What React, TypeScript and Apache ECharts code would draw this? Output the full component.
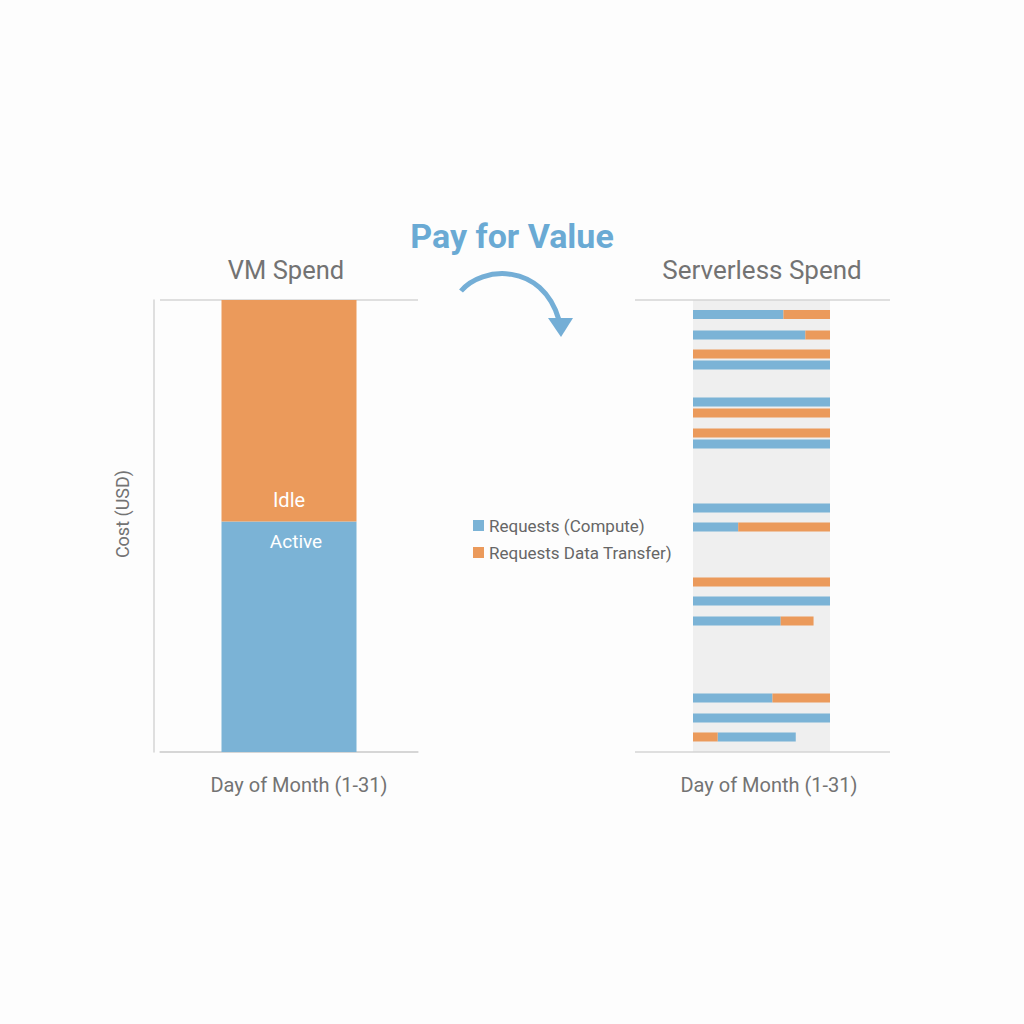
import React, { useEffect, useRef } from "react";
import * as echarts from "echarts";

// ---- Data ----
const vmCategories = ["Month"];
const vmActive = [51];
const vmIdle = [49];

// Serverless: each row is a request burst at a point in the month
const rowDay = [1.0, 2.4, 3.7, 4.46, 7.0, 7.75, 9.12, 9.88, 14.27, 15.57, 19.34, 20.64, 22.01, 27.3, 28.67, 29.97];
const computeFrom = [0, 0, 0, 0, 0, 0, 0, 0, 0, 0, 0, 0, 0, 0, 0, 18];
const computeTo = [66, 82, 0, 100, 100, 0, 0, 100, 100, 33, 0, 100, 64, 58, 100, 75];
const transferFrom = [66, 82, 0, 0, 0, 0, 0, 0, 0, 33, 0, 0, 64, 58, 0, 0];
const transferTo = [100, 100, 100, 0, 0, 100, 100, 0, 0, 100, 100, 0, 88, 100, 0, 18];

const legendNames = ["Requests (Compute)", "Requests Data Transfer)"];

const BLUE = "#7bb3d6";
const ORANGE = "#eb9a5b";
const GRAY_TEXT = "#737373";
const LINE = "#d4d4d4";
const FONT = "Roboto, 'Noto Sans', sans-serif";

function segs(from: number[], to: number[]) {
  const out: number[][] = [];
  rowDay.forEach((d, i) => {
    if (to[i] > from[i]) out.push([d, from[i], to[i]]);
  });
  return out;
}

const renderSeg = (params: any, api: any) => {
  const day = api.value(0);
  const a = api.coord([api.value(1), day]);
  const b = api.coord([api.value(2), day]);
  const h = 9;
  return {
    type: "rect",
    shape: { x: a[0], y: a[1] - h / 2, width: b[0] - a[0], height: h },
    style: { fill: api.visual("color") },
  };
};

export default function App() {
  const ref = useRef<HTMLDivElement>(null);
  useEffect(() => {
    if (!ref.current) return;
    const chart = echarts.init(ref.current, undefined, { renderer: "svg" });
    chart.setOption({
      animation: false,
      backgroundColor: "#fdfdfd",
      textStyle: { fontFamily: FONT },
      grid: [
        { left: 160, top: 300, width: 258, height: 452 },
        { left: 693, top: 300, width: 137, height: 452, show: true, backgroundColor: "#efefef", borderWidth: 0 },
        { left: 635, top: 300, width: 255, height: 452 },
      ],
      xAxis: [
        {
          type: "category",
          gridIndex: 0,
          data: vmCategories,
          axisLine: { show: true, lineStyle: { color: LINE, width: 1.5 } },
          axisTick: { show: false },
          axisLabel: { show: false },
        },
        { type: "value", gridIndex: 1, min: 0, max: 100, show: false },
        { type: "value", gridIndex: 2, min: 0, max: 1, show: false },
      ],
      yAxis: [
        {
          type: "value",
          gridIndex: 0,
          min: 0,
          max: 100,
          interval: 100,
          offset: 6,
          axisLine: { show: true, lineStyle: { color: LINE, width: 1.5 } },
          axisTick: { show: false },
          axisLabel: { show: false },
          splitLine: { show: true, lineStyle: { color: LINE, width: 1.5 } },
        },
        { type: "value", gridIndex: 1, min: 0, max: 31, inverse: true, show: false },
        {
          type: "value",
          gridIndex: 2,
          min: 0,
          max: 1,
          interval: 1,
          axisLine: { show: false },
          axisTick: { show: false },
          axisLabel: { show: false },
          splitLine: { show: true, lineStyle: { color: LINE, width: 1.5 } },
        },
      ],
      legend: {
        data: legendNames,
        orient: "vertical",
        left: 468,
        top: 512,
        icon: "rect",
        itemWidth: 11,
        itemHeight: 11,
        itemGap: 10,
        textStyle: { fontSize: 17, color: "#666", fontFamily: FONT },
      },
      series: [
        {
          name: "Active",
          type: "bar",
          xAxisIndex: 0,
          yAxisIndex: 0,
          stack: "vm",
          data: vmActive,
          barWidth: 135,
          itemStyle: { color: BLUE },
          label: {
            show: true,
            position: "insideTop",
            distance: 11,
            offset: [7, 0],
            formatter: "Active",
            color: "#fff",
            fontSize: 19,
            fontFamily: FONT,
          },
        },
        {
          name: "Idle",
          type: "bar",
          xAxisIndex: 0,
          yAxisIndex: 0,
          stack: "vm",
          data: vmIdle,
          barWidth: 135,
          itemStyle: { color: ORANGE },
          label: {
            show: true,
            position: "insideBottom",
            distance: 11,
            formatter: "Idle",
            color: "#fff",
            fontSize: 20,
            fontFamily: FONT,
          },
        },
        {
          name: legendNames[0],
          type: "custom",
          xAxisIndex: 1,
          yAxisIndex: 1,
          itemStyle: { color: BLUE },
          encode: { x: [1, 2], y: 0 },
          data: segs(computeFrom, computeTo),
          renderItem: renderSeg,
        },
        {
          name: legendNames[1],
          type: "custom",
          xAxisIndex: 1,
          yAxisIndex: 1,
          itemStyle: { color: ORANGE },
          encode: { x: [1, 2], y: 0 },
          data: segs(transferFrom, transferTo),
          renderItem: renderSeg,
        },
      ],
      graphic: [
        {
          type: "text",
          x: 286,
          y: 270,
          style: { text: "VM Spend", align: "center", verticalAlign: "middle", fontSize: 25.5, fill: GRAY_TEXT, fontFamily: FONT },
        },
        {
          type: "text",
          x: 762,
          y: 270,
          style: { text: "Serverless Spend", align: "center", verticalAlign: "middle", fontSize: 26, fill: GRAY_TEXT, fontFamily: FONT },
        },
        {
          type: "text",
          x: 512,
          y: 236,
          style: {
            text: "Pay for Value",
            align: "center",
            verticalAlign: "middle",
            fontSize: 34,
            fontWeight: "bold",
            fill: "#6aaad4",
            fontFamily: FONT,
          },
        },
        {
          type: "text",
          x: 122,
          y: 514,
          rotation: Math.PI / 2,
          style: { text: "Cost (USD)", align: "center", verticalAlign: "middle", fontSize: 18, fill: GRAY_TEXT, fontFamily: FONT },
        },
        {
          type: "text",
          x: 299,
          y: 785,
          style: { text: "Day of Month (1-31)", align: "center", verticalAlign: "middle", fontSize: 20, fill: GRAY_TEXT, fontFamily: FONT },
        },
        {
          type: "text",
          x: 769,
          y: 785,
          style: { text: "Day of Month (1-31)", align: "center", verticalAlign: "middle", fontSize: 20, fill: GRAY_TEXT, fontFamily: FONT },
        },
        {
          type: "bezierCurve",
          shape: { x1: 461, y1: 291, cpx1: 482, cpy1: 266, cpx2: 542, cpy2: 262, x2: 559, y2: 320 },
          style: { stroke: "#74aed6", lineWidth: 5, fill: null },
        },
        {
          type: "polygon",
          shape: { points: [[548, 318], [573, 318], [561, 337]] },
          style: { fill: "#74aed6" },
        },
      ],
    });
    return () => chart.dispose();
  }, []);
  return <div ref={ref} style={{ position: "fixed", left: 0, top: 0, width: 1024, height: 1024 }} />;
}
